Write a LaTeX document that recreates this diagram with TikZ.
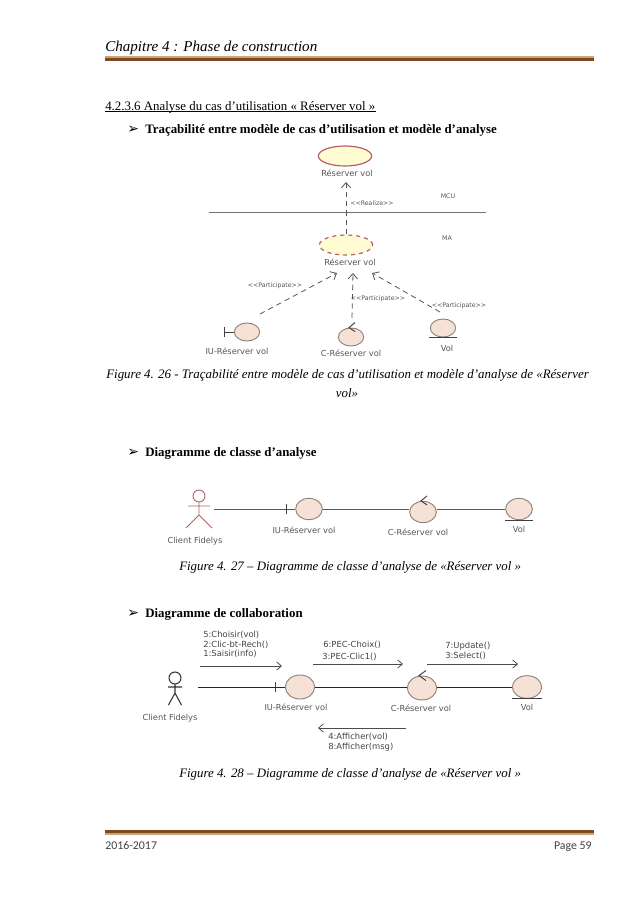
\documentclass[tikz,border=0pt]{standalone}
\usepackage{fontspec}
\setmainfont{Liberation Serif}
\newfontfamily\umlfont{DejaVu Sans}
\newfontfamily\footfont{Carlito}
\usetikzlibrary{arrows.meta,positioning,shapes.geometric}
\definecolor{vbrown}{HTML}{7B4A21}
\definecolor{vtan}{HTML}{C9A27E}
\definecolor{vcase}{HTML}{B5606A}
\definecolor{vcream}{HTML}{FFFBD2}
\definecolor{vpeach}{HTML}{F6E1D6}
\definecolor{vedge}{HTML}{8E8378}
\definecolor{vgrey}{HTML}{555555}
\tikzset{
  para/.style={anchor=base west,inner sep=0pt,font=\fontsize{9.66}{11}\selectfont},
  head/.style={para,font=\fontsize{9.66}{11}\selectfont\bfseries},
  capt/.style={para,font=\fontsize{9.66}{11}\selectfont\itshape},
  bullet/.style={anchor=base west,inner sep=0pt,font=\umlfont\fontsize{10.5}{12}\selectfont},
  lbl/.style={font=\umlfont\fontsize{6.2}{7}\selectfont,text=vgrey,inner sep=0pt},
  tiny lbl/.style={font=\umlfont\fontsize{4.7}{5}\selectfont,text=vgrey,inner sep=0pt},
  msg/.style={anchor=west,font=\umlfont\fontsize{6.3}{7}\selectfont,text=vgrey!80!black,inner sep=0pt},
  usecase/.style={ellipse,draw=vcase,fill=vcream,line width=0.9pt,minimum width=40pt,minimum height=15pt,inner sep=0pt},
  obj/.style={ellipse,draw=vedge,fill=vpeach,line width=0.7pt,inner sep=0pt},
  dep/.style={-{Straight Barb[length=4pt,width=7pt]},dashed,dash pattern=on 4pt off 3pt,line width=0.6pt,draw=vgrey},
  link/.style={line width=0.7pt,draw=vgrey},
  glyph/.style={line width=0.7pt,draw=black!75},
  msgarr/.style={-{Straight Barb[length=3.5pt,width=6pt]},line width=0.6pt,draw=black!70},
  actorman/.pic={
    \draw[line width=0.7pt,draw=vcase] (0,-10) circle (6);
    \draw[line width=0.7pt,draw=vcase] (0,-4) -- (0,9) (-11,0) -- (11,0) (0,9) -- (-13,22) (0,9) -- (13,22);
  },
  actorsmall/.pic={
    \draw[line width=0.8pt,draw=black!80] (0,-9) circle (6);
    \draw[line width=0.8pt,draw=black!80] (0,-3) -- (0,6) (-7,0) -- (7,0) (0,6) -- (-6.5,18) (0,6) -- (6.5,18);
  },
}
\begin{document}
\begin{tikzpicture}[x=0.75pt,y=-0.75pt]
  \useasboundingbox (0,0) rectangle (639,903);
  % en-tete
  \node[capt,font=\fontsize{11.3}{13}\selectfont\itshape] (titre) at (105,51) {Chapitre 4 : Phase de construction};
  \fill[vtan] (105,56) rectangle (594,57.7);
  \fill[vbrown] (105,57.7) rectangle (594,61);
  \node[para] (sec) at (105,110) {4.2.3.6 Analyse du cas d’utilisation « Réserver vol »};
  \draw[line width=0.5pt] ([yshift=-1pt]sec.base west) -- ([yshift=-1pt]sec.base east);
  \node[bullet] (b1) at (127,133) {➢};
  \node[head] (h1) at (145,133) {Traçabilité entre modèle de cas d’utilisation et modèle d’analyse};
  % tracabilite
  \node[usecase] (uc) at (345,156) {};
  \node[lbl] (ucl) at (347,173) {Réserver vol};
  \node[usecase,dashed] (ua) at (346,245) {};
  \node[lbl] (ual) at (350,262) {Réserver vol};
  \coordinate (mg) at (209,212);
  \coordinate (md) at (486,212);
  \draw[line width=0.7pt,draw=black!55] (mg) -- (md);
  \node[tiny lbl] (mcu) at (448,196) {MCU};
  \node[tiny lbl] (ma) at (447,238) {MA};
  \node[tiny lbl] (real) at (372,203) {<<Realize>>};
  \coordinate (uctip) at (346,182);
  \draw[dep] (ua.north) -- (uctip);
  \node[obj,minimum width=19pt,minimum height=13.5pt] (iu1) at (247,332) {};
  \node[obj,minimum width=19pt,minimum height=13.5pt] (c1) at (351,337) {};
  \node[obj,minimum width=19pt,minimum height=13.5pt] (v1) at (443,328) {};
  \coordinate (bar1) at (224,332);
  \draw[glyph] (iu1.west) -- (bar1) ([yshift=-3.5pt]bar1) -- ([yshift=3.5pt]bar1);
  \draw[glyph] ([shift={(4,-5)}]c1.north) -- ([shift={(-2,0)}]c1.north) -- ([shift={(4,4)}]c1.north);
  \draw[glyph] ([xshift=-10.5pt]v1.south) -- ([xshift=10.5pt]v1.south);
  \node[lbl] (iu1l) at (237,351) {IU-Réserver vol};
  \node[lbl] (c1l) at (351,353) {C-Réserver vol};
  \node[lbl] (v1l) at (447,348) {Vol};
  \coordinate (pa) at (260,314);
  \coordinate (pb) at (352,318);
  \coordinate (pc) at (440,312);
  \coordinate (ta) at (337,273);
  \coordinate (tb) at (353,273);
  \coordinate (tc) at (372,273);
  \draw[dep] (pa) -- (ta);
  \draw[dep] (pb) -- (tb);
  \draw[dep] (pc) -- (tc);
  \node[tiny lbl] (pal) at (275,286) {<<Participate>>};
  \node[tiny lbl] (pbl) at (378,299) {<<Participate>>};
  \node[tiny lbl,fill=white] (pcl) at (459,306) {<<Participate>>};
  % legende 26
  \node[capt,font=\fontsize{9.7}{11}\selectfont\itshape] (f26) at (106,378) {Figure 4. 26 - Traçabilité entre modèle de cas d’utilisation et modèle d’analyse de «Réserver};
  \node[capt,anchor=base] (f26b) at (347,397) {vol»};
  \node[bullet] (b2) at (127,456) {➢};
  \node[head] (h2) at (145,456) {Diagramme de classe d’analyse};
  % classes
  \pic at (199,506) {actorman};
  \coordinate (act2) at (214,509);
  \node[obj,minimum width=20pt,minimum height=16pt] (iu2) at (309,509) {};
  \node[obj,minimum width=20pt,minimum height=16pt] (c2) at (423,512) {};
  \node[obj,minimum width=20pt,minimum height=16pt] (v2) at (519,509) {};
  \coordinate (bar2) at (286,509);
  \draw[link] (act2) -- (iu2.west);
  \draw[link] (iu2.east) -- (iu2.east -| c2.west);
  \draw[link] (iu2.east -| c2.east) -- (v2.west);
  \draw[glyph] ([yshift=-3.8pt]bar2) -- ([yshift=3.8pt]bar2);
  \draw[glyph] ([shift={(4,-5)}]c2.north) -- ([shift={(-2,0)}]c2.north) -- ([shift={(4,4)}]c2.north);
  \draw[glyph] ([xshift=-10.5pt]v2.south) -- ([xshift=10.5pt]v2.south);
  \node[lbl] (iu2l) at (304,530) {IU-Réserver vol};
  \node[lbl] (c2l) at (418,532) {C-Réserver vol};
  \node[lbl] (v2l) at (519,529) {Vol};
  \node[lbl] (cl2) at (195,541) {Client Fidelys};
  \node[capt] (f27) at (179,570) {Figure 4. 27 – Diagramme de classe d’analyse de «Réserver vol »};
  \node[bullet] (b3) at (127,617) {➢};
  \node[head] (h3) at (145,617) {Diagramme de collaboration};
  % collaboration
  \pic at (175,687) {actorsmall};
  \coordinate (act3) at (198,687);
  \node[obj,minimum width=22pt,minimum height=18pt] (iu3) at (300,687) {};
  \node[obj,minimum width=22pt,minimum height=18pt] (c3) at (422,688) {};
  \node[obj,minimum width=22pt,minimum height=17pt] (v3) at (527,687) {};
  \coordinate (bar3) at (275,687);
  \draw[link,draw=black!85] (act3) -- (iu3.west);
  \draw[link,draw=black!85] (iu3.east) -- (iu3.east -| c3.west);
  \draw[link,draw=black!85] (iu3.east -| c3.east) -- (v3.west);
  \draw[glyph] ([yshift=-4pt]bar3) -- ([yshift=4pt]bar3);
  \draw[glyph] ([shift={(4,-5)}]c3.north) -- ([shift={(-3,0)}]c3.north) -- ([shift={(4,5)}]c3.north);
  \draw[glyph] ([xshift=-11pt]v3.south) -- ([xshift=11pt]v3.south);
  \node[lbl] (iu3l) at (296,707) {IU-Réserver vol};
  \node[lbl] (c3l) at (421,708) {C-Réserver vol};
  \node[lbl] (v3l) at (527,707) {Vol};
  \node[lbl] (cl3) at (170,718) {Client Fidelys};
  \coordinate (m1a) at (200,666);
  \coordinate (m1b) at (282,666);
  \coordinate (m2a) at (313,664);
  \coordinate (m2b) at (403,664);
  \coordinate (m3a) at (427,664);
  \coordinate (m3b) at (518,664);
  \coordinate (m4a) at (406,728);
  \coordinate (m4b) at (318,728);
  \draw[msgarr] (m1a) -- (m1b);
  \draw[msgarr] (m2a) -- (m2b);
  \draw[msgarr] (m3a) -- (m3b);
  \draw[msgarr] (m4a) -- (m4b);
  \foreach \n/\x/\y/\t in {a/203/635/5:Choisir(vol),b/203/645/2:Clic-bt-Rech(),c/203/654/1:Saisir(info),d/323/645/6:PEC-Choix(),e/322/657/3:PEC-Clic1(),f/445/646/7:Update(),g/445/656/3:Select(),h/328/737/4:Afficher(vol),i/328/747/8:Afficher(msg)} {
    \node[msg] (msg\n) at (\x,\y) {\t};
  }
  \node[capt] (f28) at (179,777) {Figure 4. 28 – Diagramme de classe d’analyse de «Réserver vol »};
  % pied de page
  \fill[vbrown] (105,829.5) rectangle (594,833.3);
  \fill[vtan] (105,833.3) rectangle (594,834.8);
  \node[para,font=\footfont\fontsize{8.9}{10}\selectfont,text=black!75] (an) at (105,849) {2016-2017};
  \node[para,anchor=base east,font=\footfont\fontsize{8.9}{10}\selectfont,text=black!75] (pg) at (592,849) {Page 59};
\end{tikzpicture}
\end{document}
